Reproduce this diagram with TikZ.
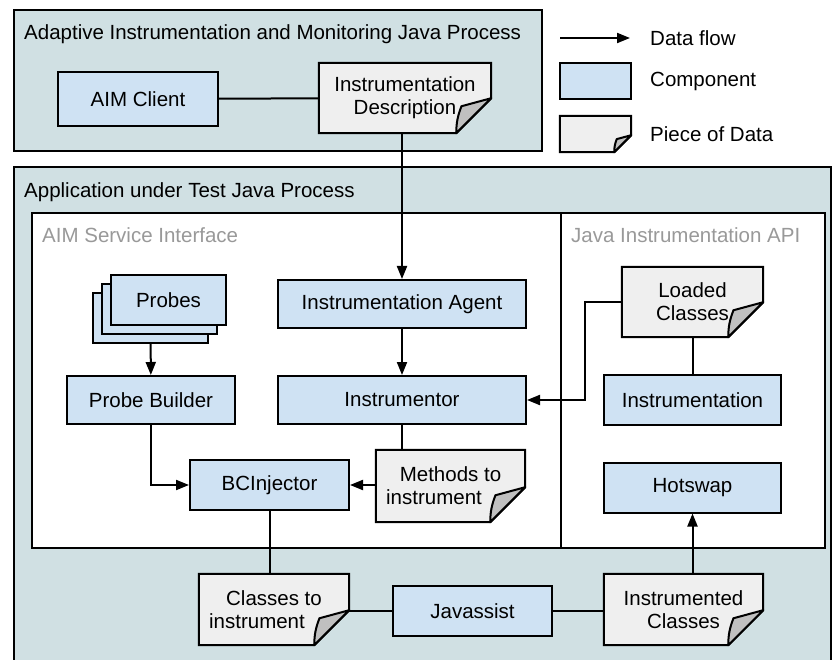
\documentclass[tikz,border=0pt]{standalone}
\usepackage{xcolor}
\usepackage{fontspec}
\setmainfont{Liberation Sans}
\usepackage{tikz}
\usetikzlibrary{arrows.meta,positioning,calc}
\definecolor{procfill}{HTML}{D0E0E3}
\definecolor{compfill}{HTML}{CFE2F3}
\definecolor{datafill}{HTML}{EFEFEF}
\definecolor{foldfill}{HTML}{C0C0C0}
\definecolor{labelgrey}{HTML}{999999}
\pgfdeclarelayer{frames}
\pgfdeclarelayer{sheets}
\pgfsetlayers{frames,sheets,main}
% outline of a piece of data with its folded corner
\newcommand{\datasheet}[2][35]{%
  \begin{pgfonlayer}{sheets}
    \draw[line,fill=datafill] (#2.north west) -- (#2.north east) -- ([yshift=#1pt]#2.south east)
      -- ([xshift=-#1pt]#2.south east) -- (#2.south west) -- cycle;
    \draw[line,fill=foldfill,line join=round] ([xshift=-#1pt]#2.south east) to[bend left=10]
      ([xshift=-0.85*#1pt,yshift=0.77*#1pt]#2.south east) -- ([yshift=#1pt]#2.south east) -- cycle;
  \end{pgfonlayer}}

\begin{document}
\begin{tikzpicture}[x=1pt,y=-1pt, every node/.style={font=\fontsize{20.5}{23}\selectfont}, line/.style={line width=2pt}, comp/.style={draw,line width=2pt,fill=compfill,inner sep=0pt,minimum height=50pt}, note/.style={inner sep=0pt,align=center}, title/.style={anchor=base west,inner sep=0pt}, arrow/.style={line width=2pt,-{Triangle[length=13pt,width=10pt]}}]
\useasboundingbox (0,0) rectangle (832,660);
% process frames
\begin{pgfonlayer}{frames}
\draw[line,fill=procfill] (14,10) rectangle (542,151);
\draw[line,fill=procfill] (14,167) rectangle (831,675);
\draw[line,fill=white] (32,213) rectangle (561,548);
\draw[line,fill=white] (561,213) rectangle (825,548);
\end{pgfonlayer}
\node[title] (aimproc) at (24,40) {Adaptive Instrumentation and Monitoring Java Process};
\node[title] (autproc) at (24,198) {Application under Test Java Process};
\node[title,text=labelgrey] (service) at (42,243) {AIM Service Interface};
\node[title,text=labelgrey] (jiapi) at (571,243) {Java Instrumentation API};
% legend
\coordinate (flowA) at (560,38);
\coordinate (flowB) at (630,38);
\draw[arrow] (flowA) -- (flowB);
\node[title,anchor=west] (flowtxt) at (650,38) {Data flow};
\node[comp,minimum width=71pt,minimum height=36pt] (legcomp) at (595.5,81) {};
\node[title,anchor=west] (comptxt) at (650,81) {Component};
\node[note,minimum width=71pt,minimum height=36pt] (legdata) at (595.5,134) {};
\datasheet[17]{legdata}
\node[title,anchor=west] (datatxt) at (650,134) {Piece of Data};
% components
\node[comp,minimum width=160pt,minimum height=54pt] (client) at (138,99) {AIM Client};
\node[comp,minimum width=248pt,minimum height=48pt] (agent) at (402,304) {Instrumentation Agent};
\node[comp,minimum width=248pt,minimum height=48pt] (instr) at (402,400) {Instrumentor};
\node[comp,minimum width=168pt,minimum height=48pt] (builder) at (151,400) {Probe Builder};
\node[comp,minimum width=115pt] (probes3) at (150.5,318) {};
\node[comp,minimum width=115pt] (probes2) at (159.5,309) {};
\node[comp,minimum width=115pt] (probes) at (168.5,300) {Probes};
\node[comp,minimum width=159pt] (bci) at (269.5,485) {BCInjector};
\node[comp,minimum width=159pt] (javassist) at (472.5,611) {Javassist};
\node[comp,minimum width=177pt] (instrumentation) at (692.5,400) {Instrumentation};
\node[comp,minimum width=177pt] (hotswap) at (692.5,487.5) {Hotswap};
% pieces of data
\node[note,minimum width=172pt,minimum height=70pt] (desc) at (405,98) {Instrumentation\\Description};
\node[note,minimum width=141pt,minimum height=70pt] (loaded) at (692.5,302) {Loaded\\Classes};
\node[note,minimum width=149pt,minimum height=72pt] (methods) at (450.5,486) {Methods to\\instrument\kern33pt};
\node[note,minimum width=150pt,minimum height=71pt] (classes) at (274,609.5) {Classes to\\instrument\kern34pt};
\node[note,minimum width=159pt,minimum height=71pt] (instrd) at (683.5,609.5) {Instrumented\\Classes};
\foreach \n in {desc,loaded,methods,classes,instrd} {\datasheet{\n}}
% connectors
\draw[line] (client) -- (desc);
\draw[arrow] (desc.south -| agent) -- (agent.north);
\draw[arrow] (agent) -- (instr);
\draw[arrow] (loaded.west) -- ++(-37,0) |- (instr.east);
\draw[line] (loaded) -- (instrumentation);
\draw[line] (instr.south) -- (instr.south |- methods.north);
\draw[arrow] (methods.west |- bci) -- (bci.east);
\draw[arrow] (probes3) -- (builder);
\draw[arrow] (builder.south) |- (bci.west);
\draw[line] (bci.south) -- (bci.south |- classes.north);
\draw[line] (classes.east |- javassist) -- (javassist.west);
\draw[line] (javassist.east) -- (instrd.west |- javassist);
\draw[arrow] (instrd.north -| hotswap) -- (hotswap.south);
\end{tikzpicture}
\end{document}
